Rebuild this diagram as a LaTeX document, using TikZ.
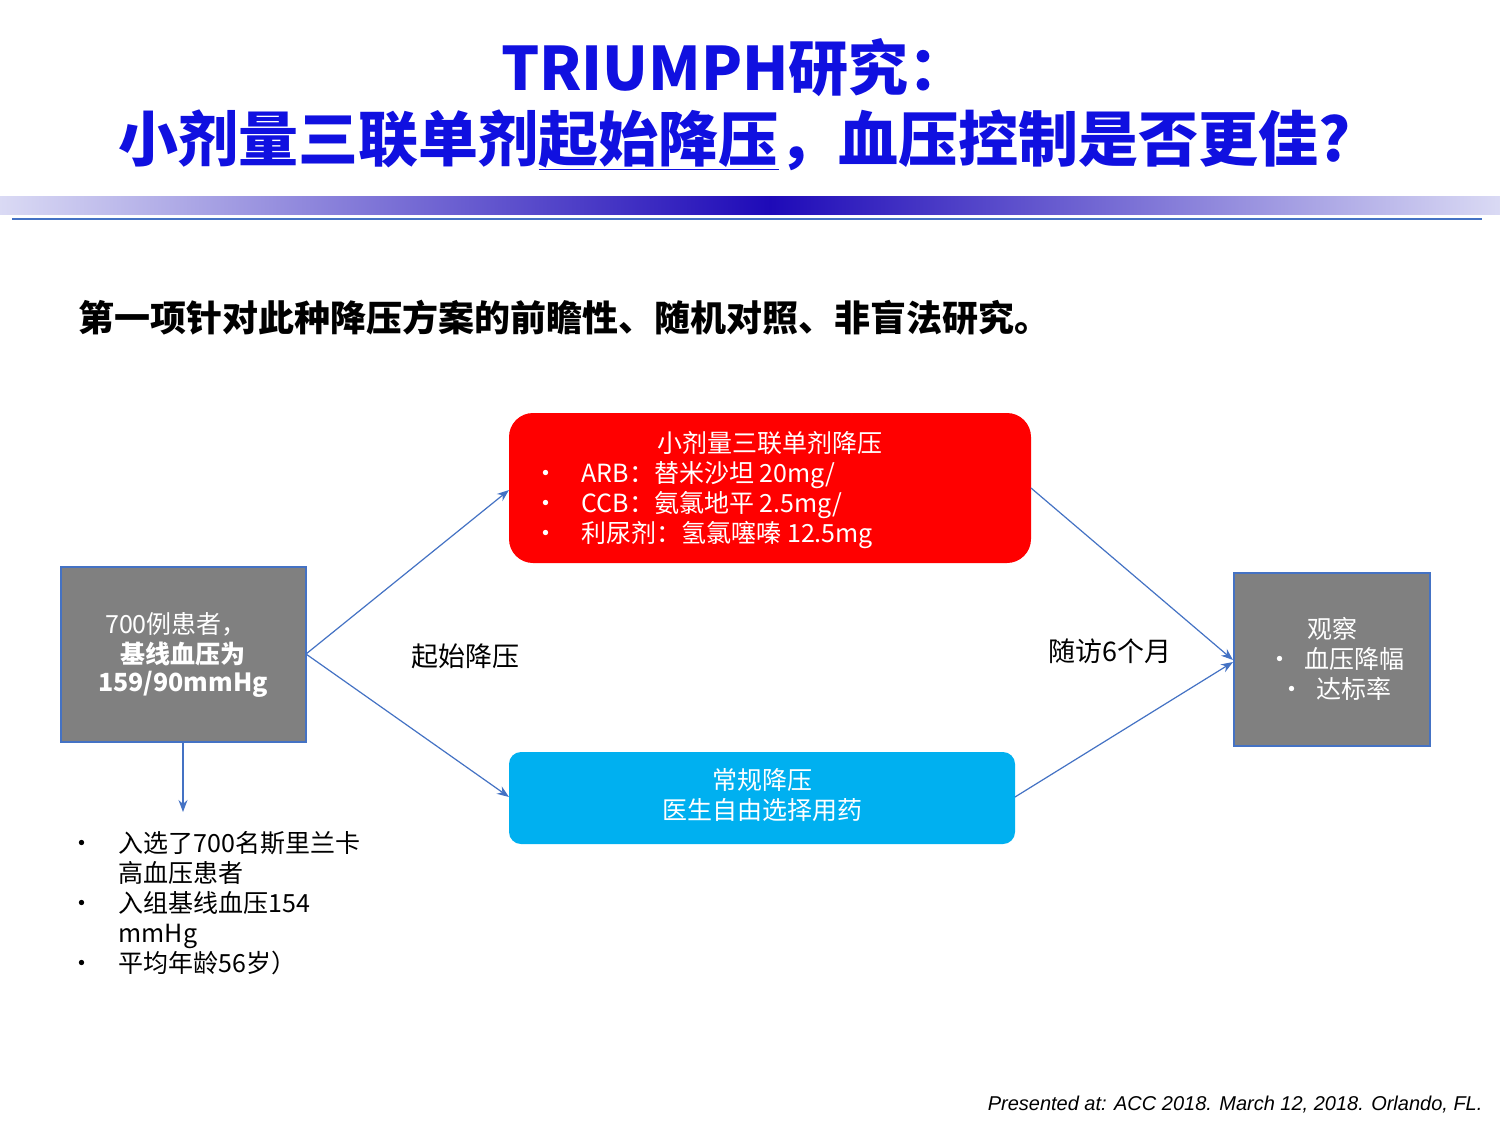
\documentclass[tikz,border=0pt]{standalone}
\usepackage{fontspec}
\setmainfont{Noto Sans CJK SC}
\newfontfamily\footfont{Liberation Sans}
\usetikzlibrary{arrows.meta}
\definecolor{ttl}{RGB}{16,16,224}
\definecolor{gdark}{RGB}{30,10,184}
\definecolor{glight}{RGB}{218,218,244}
\definecolor{ln}{RGB}{68,114,196}
\definecolor{rbox}{RGB}{255,0,0}
\definecolor{cbox}{RGB}{0,176,240}
\definecolor{gbox}{RGB}{128,128,128}
\begin{document}
\begin{tikzpicture}[x=1pt,y=-1pt,
  wt/.style={text=white,font=\fontsize{25}{30}\selectfont,anchor=base west},
  bt/.style={text=black,font=\fontsize{25}{30}\selectfont,anchor=base west},
  conn/.style={draw=ln,line width=1.2pt,-{Stealth[length=12pt,width=9pt]}},
  gb/.style={fill=gbox,draw=ln,line width=1.2pt}]
\useasboundingbox (0,0) rectangle (1500,1125);
\fill[white] (0,0) rectangle (1500,1125);
% title
\node[text=ttl,font=\fontsize{60}{70}\bfseries\selectfont] (t1) at (735,68) {TRIUMPH研究：};
\node[text=ttl,font=\fontsize{60}{70}\bfseries\selectfont] (t2) at (735,140) {小剂量三联单剂\underline{起始降压}，血压控制是否更佳?};
% bar
\shade[left color=glight,right color=gdark] (0,196) rectangle (770,214);
\shade[left color=gdark,right color=glight] (770,196) rectangle (1500,214);
\draw[ln,line width=1.5pt] (12,219) -- (1482,219);
% subtitle
\node[anchor=base west,font=\fontsize{36}{40}\bfseries\selectfont] (sub) at (75,331) {第一项针对此种降压方案的前瞻性、随机对照、非盲法研究。};
% boxes
\node[gb,minimum width=245pt,minimum height=175pt,inner sep=0] (L) at (183.5,654.5) {};
\node[text=white,font=\fontsize{25}{30}\selectfont] (l1) at (176,624) {700例患者，};
\node[text=white,font=\fontsize{25}{30}\bfseries\selectfont] (l2) at (183,654) {基线血压为};
\node[text=white,font=\fontsize{25}{30}\bfseries\selectfont] (l3) at (183,684) {159/90mmHg};
\node[gb,minimum width=196pt,minimum height=173pt,inner sep=0] (R) at (1332,659.5) {};
\node[text=white,font=\fontsize{25}{30}\selectfont] (r1) at (1332,629) {观察};
\node[wt] (r2) at (1264,668) {•\hspace{12pt}血压降幅};
\node[wt] (r3) at (1276,698) {•\hspace{12pt}达标率};
\node[fill=rbox,rounded corners=24pt,minimum width=522pt,minimum height=150pt,inner sep=0] (Rd) at (770,488) {};
\node[text=white,font=\fontsize{25}{30}\selectfont] (rd0) at (770,443) {小剂量三联单剂降压};
\node[wt] (rd1) at (530,482) {•};
\node[wt] (rd1t) at (578,482) {ARB：替米沙坦 20mg/};
\node[wt] (rd2) at (530,512) {•};
\node[wt] (rd2t) at (578,512) {CCB：氨氯地平 2.5mg/};
\node[wt] (rd3) at (530,542) {•};
\node[wt] (rd3t) at (578,542) {利尿剂：氢氯噻嗪 12.5mg};
\node[fill=cbox,rounded corners=12pt,minimum width=506pt,minimum height=92pt,inner sep=0] (B) at (762,798) {};
\node[text=white,font=\fontsize{25}{30}\selectfont] (b1) at (762,780) {常规降压};
\node[text=white,font=\fontsize{25}{30}\selectfont] (b2) at (762,810) {医生自由选择用药};
% connectors
\coordinate (Le) at (306,654);
\coordinate (Rdw) at (509,490);
\coordinate (Bw) at (509,797);
\coordinate (Rde) at (1031,488);
\coordinate (Be) at (1015,797);
\coordinate (Rw1) at (1233,660);
\coordinate (Rw2) at (1233,662);
\coordinate (Ls) at (183,742);
\coordinate (Ld) at (183,812);
\draw[conn] (Le) -- (Rdw);
\draw[conn] (Le) -- (Bw);
\draw[conn] (Rde) -- (Rw1);
\draw[conn] (Be) -- (Rw2);
\draw[conn] (Ls) -- (Ld);
\node[text=black,font=\fontsize{27}{30}\selectfont] (lab1) at (465,656) {起始降压};
\node[text=black,font=\fontsize{27}{30}\selectfont] (lab2) at (1110,651) {随访6个月};
% list
\foreach \y/\t [count=\i] in {852/入选了700名斯里兰卡,912/入组基线血压154/90,972/平均年龄56岁）}{
  \node[bt] (bu\i) at (66,\y) {•};
  \node[bt] (li\i) at (115,\y) {\t};
}
\node[bt] (li4) at (115,882) {高血压患者};
\node[bt] (li5) at (115,942) {mmHg};
\node[anchor=base east,font=\footfont\itshape\fontsize{20}{24}\selectfont] (ft) at (1486,1110) {Presented at: ACC 2018. March 12, 2018. Orlando, FL.};
\end{tikzpicture}
\end{document}
